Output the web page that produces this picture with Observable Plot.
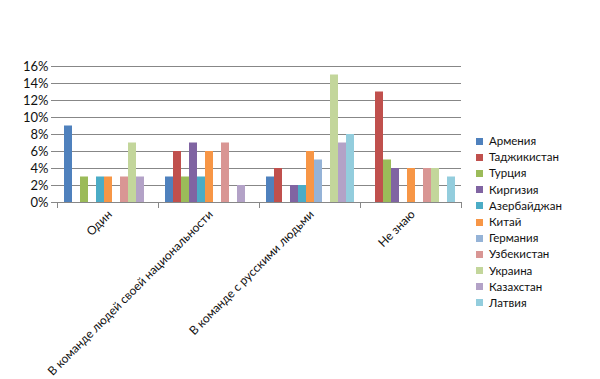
<!DOCTYPE html>
<html>
<head>
<meta charset="utf-8">
<script src="https://cdn.jsdelivr.net/npm/d3@7"></script>
<script src="https://cdn.jsdelivr.net/npm/@observablehq/plot@0.6"></script>
<style>
  body { margin: 0; background: #fff; }
  #wrap { position: relative; width: 600px; height: 379px; font-family: Lato, "Open Sans", sans-serif; }
  #legend { position: absolute; left: 476px; top: 133px; font-size: 11.5px; color: #111; }
  #legend .row { height: 16.2px; line-height: 16.2px; display: flex; align-items: center; white-space: nowrap; }
  #legend .sw { width: 7px; height: 7px; margin-right: 6px; display: inline-block; }
</style>
</head>
<body>
<div id="wrap"></div>
<script>
const categories = ["Один", "В команде людей своей национальности", "В команде с русскими людьми", "Не знаю"];
const countries = ["Армения", "Таджикистан", "Турция", "Киргизия", "Азербайджан", "Китай", "Германия", "Узбекистан", "Украина", "Казахстан", "Латвия"];
const colors = ["#4F81BD", "#C0504D", "#9BBB59", "#8064A2", "#4BACC6", "#F79646", "#95B3D7", "#D99694", "#C3D69B", "#B3A2C7", "#93CDDD"];
// values in percent, per country, in category order
const armenia      = [9, 3, 3, 0];
const tajikistan   = [0, 6, 4, 13];
const turkey       = [3, 3, 0, 5];
const kyrgyzstan   = [0, 7, 2, 4];
const azerbaijan   = [3, 3, 2, 0];
const china        = [3, 6, 6, 4];
const germany      = [0, 0, 5, 0];
const uzbekistan   = [3, 7, 0, 4];
const ukraine      = [7, 0, 15, 4];
const kazakhstan   = [3, 2, 7, 0];
const latvia       = [0, 0, 8, 3];
const yTicks = [0, 2, 4, 6, 8, 10, 12, 14, 16];

const series = [armenia, tajikistan, turkey, kyrgyzstan, azerbaijan, china, germany, uzbekistan, ukraine, kazakhstan, latvia];
const data = [];
categories.forEach((c, i) => countries.forEach((k, j) => data.push({category: c, country: k, value: series[j][i] / 100})));

const chart = Plot.plot({
  width: 600,
  height: 379,
  marginLeft: 56,
  marginRight: 139,
  marginTop: 66,
  marginBottom: 177,
  style: {fontFamily: "Lato, 'Open Sans', sans-serif", fontSize: "12px", color: "#111", background: "#fff"},
  fx: {domain: categories, padding: 0, label: null},
  x: {domain: countries, paddingInner: 0, paddingOuter: 0.8, axis: null},
  y: {domain: [0, 0.16], label: null},
  color: {domain: countries, range: colors},
  marks: [
    Plot.gridY(yTicks.map(d => d / 100), {stroke: "#878787", strokeOpacity: 1}),
    Plot.axisY(yTicks.map(d => d / 100), {tickFormat: d => Math.round(d * 100) + "%", tickSize: 6, stroke: "#878787", tickPadding: 3, fontSize: 13, label: null}),
    Plot.barY(data, {fx: "category", x: "country", y: "value", fill: "country"}),
    Plot.ruleY([0], {stroke: "#878787"}),
    Plot.frame({anchor: "left", stroke: "#878787", insetTop: 136, insetBottom: -5}),
    Plot.frame({anchor: "right", stroke: "#878787", insetTop: 136, insetBottom: -5}),
    Plot.axisFx({anchor: "bottom", tickSize: 0, tickRotate: -45, tickPadding: 10, fontSize: 12, label: null, dx: 2})
  ]
});
const wrap = document.getElementById("wrap");
wrap.appendChild(chart);

const legend = d3.select(wrap).append("div").attr("id", "legend");
countries.forEach((k, j) => {
  const row = legend.append("div").attr("class", "row");
  row.append("span").attr("class", "sw").style("background", colors[j]);
  row.append("span").text(k);
});
</script>
</body>
</html>
